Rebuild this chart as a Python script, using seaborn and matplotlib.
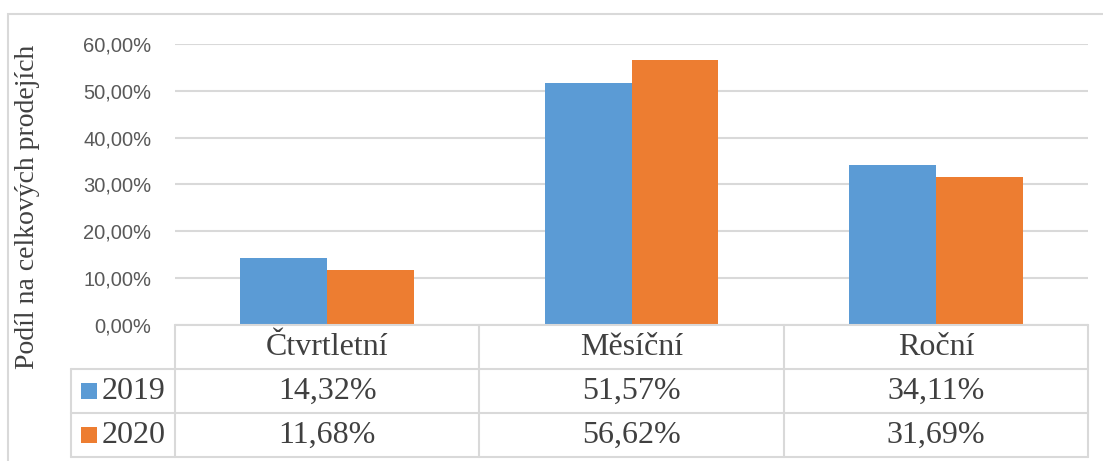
import matplotlib
matplotlib.use("Agg")
import matplotlib.pyplot as plt
import matplotlib.transforms as mtransforms
from matplotlib.lines import Line2D
from matplotlib.patches import Rectangle
from matplotlib.ticker import FuncFormatter, MultipleLocator
import pandas as pd
import seaborn as sns

categories = ["Čtvrtletní", "Měsíční", "Roční"]
years = ["2019", "2020"]
values_2019 = [14.32, 51.57, 34.11]
values_2020 = [11.68, 56.62, 31.69]
colors = ["#5B9BD5", "#ED7D31"]
y_label = "Podíl na celkových prodejích"

df = pd.DataFrame({
    "cat": categories * 2,
    "year": [years[0]] * 3 + [years[1]] * 3,
    "val": [v / 100 for v in values_2019] + [v / 100 for v in values_2020],
})

sns.set_theme(style="white")
plt.rcParams['font.family'] = ['Liberation Sans', 'DejaVu Sans']
plt.rcParams['font.serif'] = ['Liberation Serif', 'DejaVu Serif']

W, H = 1103, 461
fig = plt.figure(figsize=(W / 100, H / 100), dpi=100)
fig.patch.set_facecolor("white")

# outer frame
fig.add_artist(Rectangle((8 / W, -0.05), 1.1, (H - 14) / H + 0.05,
                         transform=fig.transFigure, fill=False,
                         edgecolor="#D9D9D9", linewidth=1.5))

left, right, top, bottom = 175, 1088, 44, 325
ax = fig.add_axes([left / W, (H - bottom) / H, (right - left) / W, (bottom - top) / H])

sns.barplot(data=df, x="cat", y="val", hue="year", palette=colors,
            width=0.57, saturation=1, linewidth=0, legend=False, ax=ax)

ax.set_ylim(0, 0.6)
ax.set_xlim(-0.5, 2.5)
ax.yaxis.set_major_locator(MultipleLocator(0.1))
ax.yaxis.set_major_formatter(FuncFormatter(lambda v, p: f"{v * 100:.2f}".replace(".", ",") + "%"))
ax.grid(axis="y", color="#D9D9D9", linewidth=1.5)
ax.set_axisbelow(True)
for s in ax.spines.values():
    s.set_visible(False)
ax.tick_params(axis="y", length=0, pad=17, labelsize=14.5, labelcolor="#595959")
ax.set_xticks([])
ax.set_xlabel("")
ax.set_ylabel(y_label, family="serif", fontsize=20, color="#404040")
ax.yaxis.set_label_coords((40 - left) / (right - left), (bottom - 207) / (bottom - top))

# data table below the plot
ph = bottom - top
pw = right - left
def fy(py):
    return (bottom - py) / ph
def fx(px):
    return (px - left) / pw

row_edges = [325, 369, 413, 457]
lc = "#D9D9D9"
lw = 1.5
tr_ax = ax.transAxes
ax.add_line(Line2D([0, 1], [fy(row_edges[0])] * 2, transform=tr_ax, color=lc, lw=lw, clip_on=False))
for r in row_edges[1:]:
    ax.add_line(Line2D([fx(71), 1], [fy(r)] * 2, transform=tr_ax, color=lc, lw=lw, clip_on=False))
ax.add_line(Line2D([fx(71)] * 2, [fy(369), fy(457)], transform=tr_ax, color=lc, lw=lw, clip_on=False))
blend = mtransforms.blended_transform_factory(ax.transData, ax.transAxes)
for xb in [-0.5, 0.5, 1.5, 2.5]:
    ax.add_line(Line2D([xb, xb], [fy(325), fy(457)], transform=blend, color=lc, lw=lw, clip_on=False))

tc = "#404040"
for i, c in enumerate(categories):
    ax.text(i, fy((325 + 369) / 2), c, transform=blend, ha="center", va="center",
            fontsize=23, color=tc, family="serif")
    for j, vals in enumerate([values_2019, values_2020]):
        yc = (row_edges[j + 1] + row_edges[j + 2]) / 2
        ax.text(i, fy(yc), f"{vals[i]:.2f}".replace(".", ",") + "%", transform=blend,
                ha="center", va="center", fontsize=23, color=tc, family="serif")

for j, yr in enumerate(years):
    yc = (row_edges[j + 1] + row_edges[j + 2]) / 2
    ax.add_patch(Rectangle((fx(81), fy(yc + 8)), 16 / pw, 16 / ph, transform=tr_ax,
                           facecolor=colors[j], edgecolor="none", clip_on=False))
    ax.text(fx(102), fy(yc), yr, transform=tr_ax, ha="left", va="center",
            fontsize=23, color=tc, family="serif")

fig.savefig("out.png", dpi=100)
